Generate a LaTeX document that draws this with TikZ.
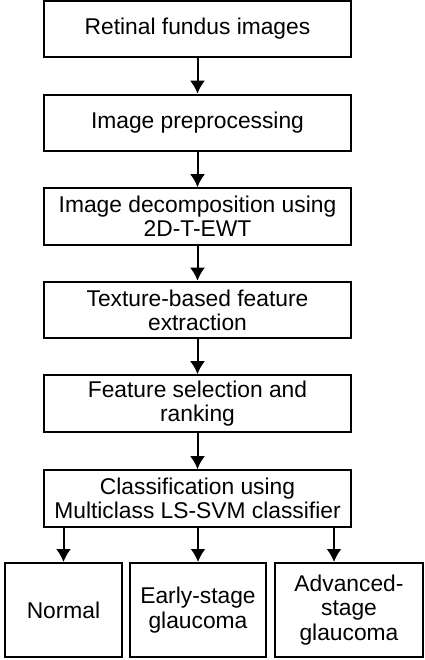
\documentclass[tikz,border=0pt]{standalone}
\usepackage{fontspec}
\setmainfont{Liberation Sans}
\usetikzlibrary{arrows.meta}
\begin{document}
\begin{tikzpicture}[x=0.5pt,y=-0.5pt,
	stage/.style={draw,black,line width=1pt,align=center,inner sep=0pt,minimum width=153.5pt,minimum height=28.3pt,font=\fontsize{11.4}{12.1}\selectfont},
	result/.style={stage,minimum height=47pt},
	flow/.style={line width=1pt,-{Latex[length=6.5pt,width=7.5pt]}}]
	
	\useasboundingbox (0,0) rectangle (424,660);
	
	% steps of the pipeline
	\node[stage] (fundus) at (197.5,29){Retinal fundus images};
	\node[stage] (preproc) at (197.5,123){Image preprocessing};
	\node[stage] (decomp) at (197.5,216.5){Image decomposition using\\2D-T-EWT};
	\node[stage] (texture) at (197.5,310){Texture-based feature\\extraction};
	\node[stage] (select) at (197.5,403.5){Feature selection and\\ranking};
	\node[stage] (classify) at (197.5,498.5){Classification using\\Multiclass LS-SVM classifier};
	
	% classes
	\node[result,minimum width=58.5pt] (normal) at (63.5,610){Normal};
	\node[result,minimum width=68pt] (early) at (198,610){Early-stage\\glaucoma};
	\node[result,minimum width=74pt] (advanced) at (349,610){Advanced-\\stage\\glaucoma};
	
	% arrows
	\draw[flow](fundus)--(preproc);
	\draw[flow](preproc)--(decomp);
	\draw[flow](decomp)--(texture);
	\draw[flow](texture)--(select);
	\draw[flow](select)--(classify);
	\draw[flow](classify.south -| normal.north)--(normal.north);
	\draw[flow](classify.south -| early.north)--(early.north);
	\draw[flow]([xshift=-7.5pt]advanced.north |- classify.south)--([xshift=-7.5pt]advanced.north);
\end{tikzpicture}
\end{document}
